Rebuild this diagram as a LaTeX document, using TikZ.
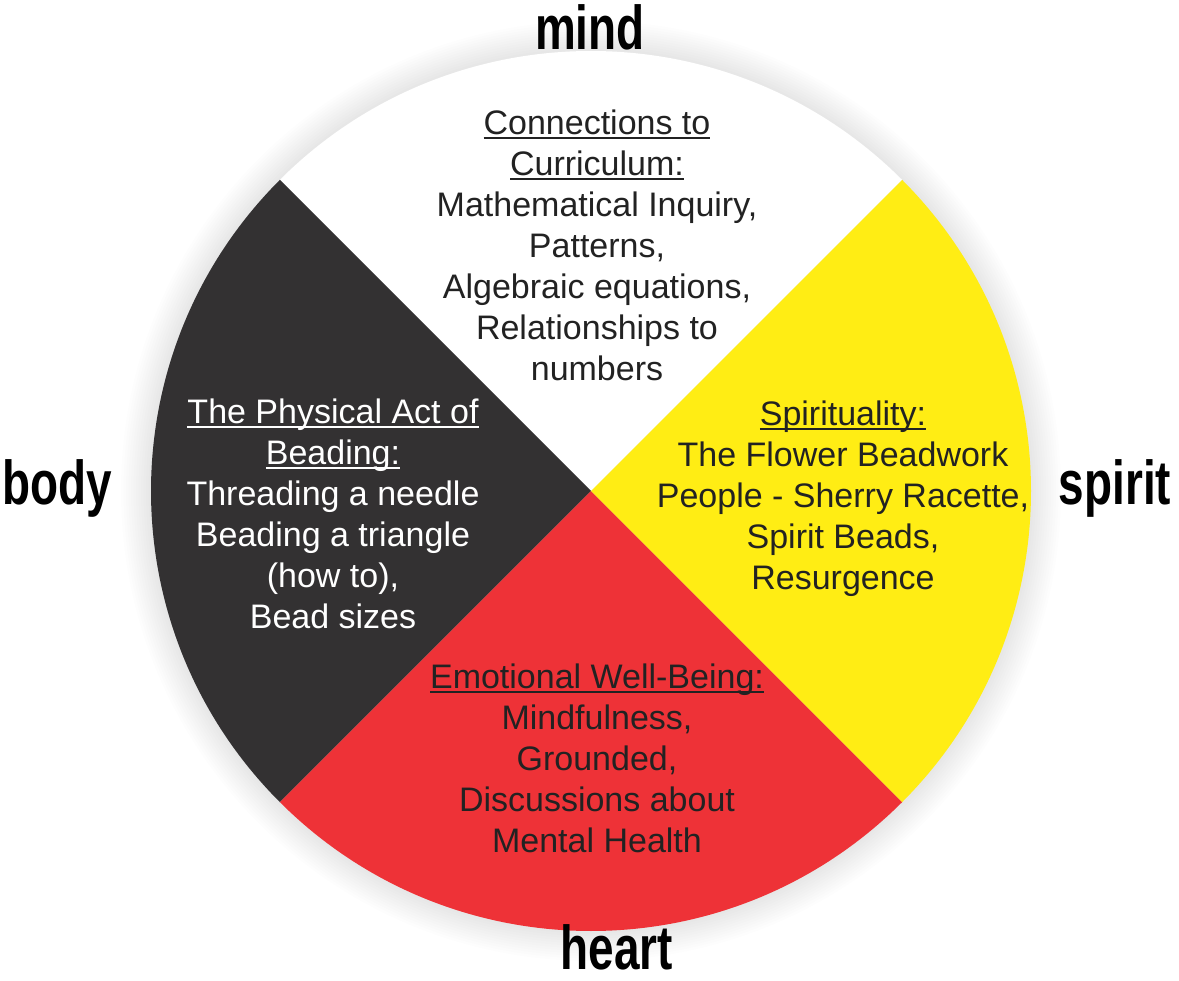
\documentclass[tikz,border=0pt]{standalone}
\usepackage{fontspec}
\setmainfont{Liberation Sans}
\usetikzlibrary{calc}
\definecolor{wblack}{HTML}{333132}
\definecolor{wred}{HTML}{EE3237}
\definecolor{wyellow}{HTML}{FFED14}
\definecolor{txtdark}{HTML}{222222}
\newcommand{\ulx}[1]{\setbox0=\hbox{#1}\rlap{\rule[-4.5pt]{\wd0}{1.8pt}}\box0}
\tikzset{
  blocktext/.style={align=center, inner sep=0pt, anchor=north, font=\fontsize{34}{41}\selectfont},
  dirlabel/.style={inner sep=0pt, anchor=base, font=\bfseries\fontsize{62}{62}\selectfont, text=black},
  sector/.style={draw=none},
}
\begin{document}
\begin{tikzpicture}[x=1pt,y=1pt]
\fill[white] (0,0) rectangle (1179,-981);
\useasboundingbox (0,0) rectangle (1179,-981);
\coordinate (C) at (591,-491);
% soft glow around the wheel
\foreach \k in {1,...,12} \fill[black,opacity=0.006] (C) circle[radius=440+2.5*\k];
% quadrants
\fill[sector,white] (C) -- ++(45:440) arc[start angle=45,end angle=135,radius=440] -- cycle;
\fill[sector,wblack] (C) -- ++(135:440) arc[start angle=135,end angle=225,radius=440] -- cycle;
\fill[sector,wred] (C) -- ++(225:440) arc[start angle=225,end angle=315,radius=440] -- cycle;
\fill[sector,wyellow] (C) -- ++(-45:440) arc[start angle=-45,end angle=45,radius=440] -- cycle;
% quadrant texts
\node[blocktext,text=txtdark] (mindtext) at (597,-109.5) {\ulx{Connections to}\\\ulx{Curriculum:}\\Mathematical Inquiry,\\Patterns,\\Algebraic equations,\\Relationships to\\numbers};
\node[blocktext,text=white] (bodytext) at (333,-398.5) {\ulx{The Physical Act of}\\\ulx{Beading:}\\Threading a needle\\Beading a triangle\\(how to),\\Bead sizes};
\node[blocktext,text=txtdark] (spirittext) at (843,-400.5) {\ulx{Spirituality:}\\The Flower Beadwork\\People - Sherry Racette,\\Spirit Beads,\\Resurgence};
\node[blocktext,text=txtdark] (hearttext) at (597,-663.5) {\ulx{Emotional Well-Being:}\\Mindfulness,\\Grounded,\\Discussions about\\Mental Health};
% direction labels
\node[dirlabel] (mind) at (590,-50) {\scalebox{0.74}[1]{mind}};
\node[dirlabel] (body) at (57,-505) {\scalebox{0.74}[1]{body}};
\node[dirlabel] (spirit) at (1115,-505) {\scalebox{0.74}[1]{spirit}};
\node[dirlabel] (heart) at (617,-969) {\scalebox{0.74}[1]{heart}};
\end{tikzpicture}
\end{document}
